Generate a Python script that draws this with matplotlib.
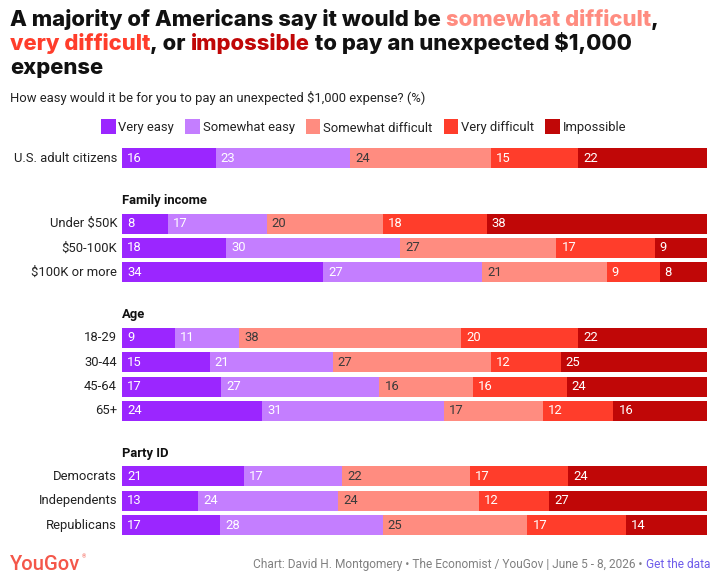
import matplotlib
matplotlib.use("Agg")
import matplotlib.pyplot as plt
from matplotlib.patches import Rectangle

# ---------------- data ----------------
categories = ["Very easy", "Somewhat easy", "Somewhat difficult", "Very difficult", "Impossible"]
colors = ["#9B26FF", "#C47EFF", "#FF8C80", "#FF3D2B", "#C00707"]
label_colors = ["white", "white", "#3a3a3a", "white", "white"]

groups = [None, "Family income", "Age", "Party ID"]
group_rows = [
    ["U.S. adult citizens"],
    ["Under $50K", "$50-100K", "$100K or more"],
    ["18-29", "30-44", "45-64", "65+"],
    ["Democrats", "Independents", "Republicans"],
]
very_easy      = [16, 8, 18, 34, 9, 15, 17, 24, 21, 13, 17]
somewhat_easy  = [23, 17, 30, 27, 11, 21, 27, 31, 17, 24, 28]
somewhat_diff  = [24, 20, 27, 21, 38, 27, 16, 17, 22, 24, 25]
very_diff      = [15, 18, 17, 9, 20, 12, 16, 12, 17, 12, 17]
impossible     = [22, 38, 9, 8, 22, 25, 24, 16, 24, 27, 14]
series = [very_easy, somewhat_easy, somewhat_diff, very_diff, impossible]

W, H = 717, 585
FONT = "Roboto"
TFONT = "Inter"
BODY = 9.4
fig = plt.figure(figsize=(W / 100, H / 100), dpi=100)
fig.patch.set_facecolor("white")

def fx(x):
    return x / W

def fy(y):
    return 1 - y / H

# ---------------- layout of rows (pixel space) ----------------
pitch = 24.4
first_row = 158.0
group_gap = 65.5
row_y = []
header_y = []
y = first_row
for gi, rows in enumerate(group_rows):
    if gi > 0:
        y = row_y[-1] + group_gap
        header_y.append(y - 23)
    for ri, r in enumerate(rows):
        row_y.append(y)
        y += pitch

ax_left, ax_right = 122, 707
ax_top, ax_bot = 140, 540
ax = fig.add_axes([fx(ax_left), fy(ax_bot), (ax_right - ax_left) / W, (ax_bot - ax_top) / H])
ax.set_xlim(0, 100)
ax.set_ylim(ax_bot, ax_top)
ax.axis("off")

row_labels = [r for rows in group_rows for r in rows]
bar_h = 20
for i, (lab, yc) in enumerate(zip(row_labels, row_y)):
    vals = [s[i] for s in series]
    tot = sum(vals)
    left = 0.0
    for k, v in enumerate(vals):
        w = v / tot * 100
        ax.barh(yc, w, left=left, height=bar_h, color=colors[k], edgecolor="none")
        ax.annotate(str(v), xy=(left, yc), xytext=(5, 0), textcoords="offset pixels",
                    ha="left", va="center", fontsize=BODY, color=label_colors[k], family=FONT)
        left += w
    ax.annotate(lab, xy=(0, yc), xycoords=("axes fraction", "data"), xytext=(-5, 0),
                textcoords="offset pixels", ha="right", va="center", fontsize=BODY,
                color="#222222", family=FONT)

for g, hy in zip(groups[1:], header_y):
    ax.annotate(g, xy=(0, hy), xycoords=("axes fraction", "data"), ha="left", va="center",
                fontsize=BODY, fontweight="bold", color="#111111", family=FONT)

# ---------------- title (multicolour) ----------------
renderer = fig.canvas.get_renderer()
title_lines = [
    [("A majority of Americans say it would be ", "#111111"), ("somewhat difficult", colors[2]), (",", "#111111")],
    [("very difficult", colors[3]), (", or ", "#111111"), ("impossible", colors[4]),
     (" to pay an unexpected $1,000", "#111111")],
    [("expense", "#111111")],
]
TW = "heavy"
probe = fig.text(0, 0, "".join(t for t, _ in title_lines[0]), fontsize=16, fontweight=TW,
                 family=TFONT)
pw = probe.get_window_extent(renderer).width
probe.remove()
tsize = 16 * 648 / pw

baselines = [26, 50, 74]
for line, base in zip(title_lines, baselines):
    x = 10
    for txt, col in line:
        t = fig.text(fx(x), fy(base), txt, color=col, fontsize=tsize, fontweight=TW,
                     family=TFONT, ha="left", va="baseline")
        bb = t.get_window_extent(renderer)
        x += bb.width

fig.text(fx(10), fy(102), "How easy would it be for you to pay an unexpected $1,000 expense? (%)",
         fontsize=BODY, color="#222222", family=FONT, ha="left", va="baseline")

# ---------------- legend ----------------
lx = 101
for k, c in enumerate(categories):
    fig.patches.append(Rectangle((fx(lx), fy(134)), 14.5 / W, 14.5 / H, transform=fig.transFigure,
                                 facecolor=colors[k], edgecolor="none"))
    t = fig.text(fx(lx + 17.5), fy(131.5), c, fontsize=BODY, color="#222222", family=FONT,
                 ha="left", va="baseline")
    lx = lx + 17.5 + t.get_window_extent(renderer).width + 11

# ---------------- footer ----------------
yg = fig.text(fx(10), fy(570), "YouGov", fontsize=14.6, color="#F4574A", family=FONT,
              ha="left", va="baseline", fontweight="medium")
ygw = yg.get_window_extent(renderer).width
fig.text(fx(10 + ygw + 1), fy(558), "\u00ae", fontsize=4, color="#F4574A", family=FONT,
         ha="left", va="baseline")
foot = fig.text(fx(710), fy(568), "Get the data", fontsize=8.6, color="#6E5BEA",
                family=FONT, ha="right", va="baseline")
fw = foot.get_window_extent(renderer).width
fig.text(fx(710 - fw), fy(568),
         "Chart: David H. Montgomery \u2022 The Economist / YouGov | June 5 - 8, 2026 \u2022 ",
         fontsize=8.6, color="#808080", family=FONT, ha="right", va="baseline")

fig.savefig("out.png", dpi=100, facecolor="white")
